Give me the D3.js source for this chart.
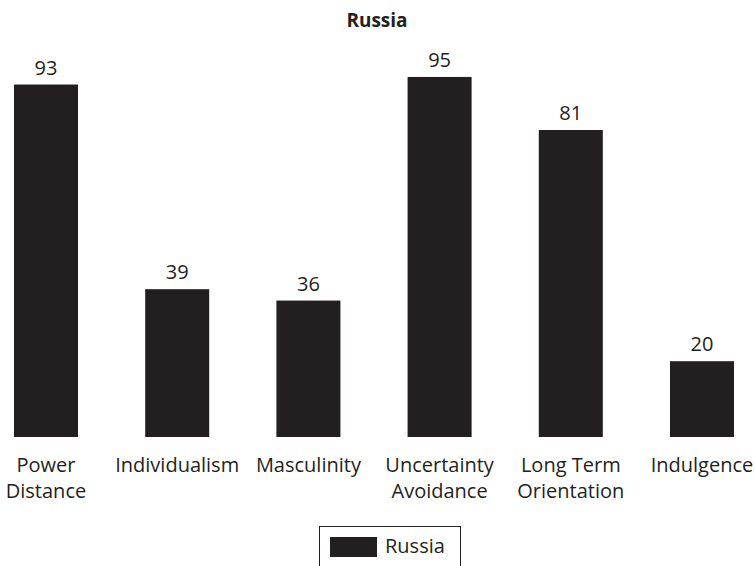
<!DOCTYPE html>
<html>
<head>
  <meta charset="utf-8">
  <title>Russia</title>
  <script src="https://d3js.org/d3.v7.min.js"></script>
  <style>
    body { margin: 0; background: #fff; }
    text { font-family: "Open Sans", "Noto Sans", sans-serif; fill: #231f20; }
  </style>
</head>
<body>
  <div id="chart"></div>
  <script>
    // Hofstede dimensions for Russia
    var categories = ['Power Distance', 'Individualism', 'Masculinity', 'Uncertainty Avoidance', 'Long Term Orientation', 'Indulgence'];
    var labelLines = [['Power', 'Distance'], ['Individualism'], ['Masculinity'], ['Uncertainty', 'Avoidance'], ['Long Term', 'Orientation'], ['Indulgence']];
    var values = [93, 39, 36, 95, 81, 20];
    var seriesName = 'Russia';

    var width = 755, height = 566;

    var x = d3.scaleBand().domain(categories).range([-19.6, 767.6]).paddingInner(0.512).paddingOuter(0.256);
    var y = d3.scaleLinear().domain([0, 100]).range([437, 58]);

    var svg = d3.select('#chart').append('svg')
      .attr('width', width)
      .attr('height', height);

    svg.append('text')
      .text(seriesName)
      .attr('x', 377)
      .attr('y', 27)
      .attr('text-anchor', 'middle')
      .style('font-weight', 'bold')
      .style('font-size', '19px');

    var data = categories.map(function(c, i) { return {cat: c, value: values[i], lines: labelLines[i]}; });

    svg.append('g').selectAll('rect')
      .data(data)
      .enter().append('rect')
        .attr('x', function(d) { return x(d.cat); })
        .attr('y', function(d) { return y(d.value); })
        .attr('width', x.bandwidth())
        .attr('height', function(d) { return y(0) - y(d.value); })
        .attr('fill', '#231f20');

    svg.append('g').selectAll('text')
      .data(data)
      .enter().append('text')
        .text(function(d) { return d.value; })
        .attr('x', function(d) { return x(d.cat) + x.bandwidth() / 2; })
        .attr('y', function(d) { return y(d.value) - 10; })
        .attr('text-anchor', 'middle')
        .style('font-size', '20px');

    // category labels, wrapped onto two lines where needed
    var cats = svg.append('g').selectAll('text')
      .data(data)
      .enter().append('text')
        .attr('text-anchor', 'middle')
        .style('font-size', '20px');

    cats.each(function(d) {
      var t = d3.select(this);
      d.lines.forEach(function(line, j) {
        t.append('tspan')
          .attr('x', x(d.cat) + x.bandwidth() / 2)
          .attr('y', 472 + j * 26)
          .text(line);
      });
    });

    // legend
    var legend = svg.append('g').attr('transform', 'translate(319,526)');
    legend.append('rect')
      .attr('x', 0.5).attr('y', 0.5)
      .attr('width', 141).attr('height', 60)
      .attr('fill', 'none')
      .attr('stroke', '#231f20')
      .attr('stroke-width', 1);
    legend.append('rect')
      .attr('x', 11).attr('y', 11)
      .attr('width', 47).attr('height', 20)
      .attr('fill', '#231f20');
    legend.append('text')
      .text(seriesName)
      .attr('x', 66)
      .attr('y', 27)
      .style('font-size', '20px');
  </script>
</body>
</html>
